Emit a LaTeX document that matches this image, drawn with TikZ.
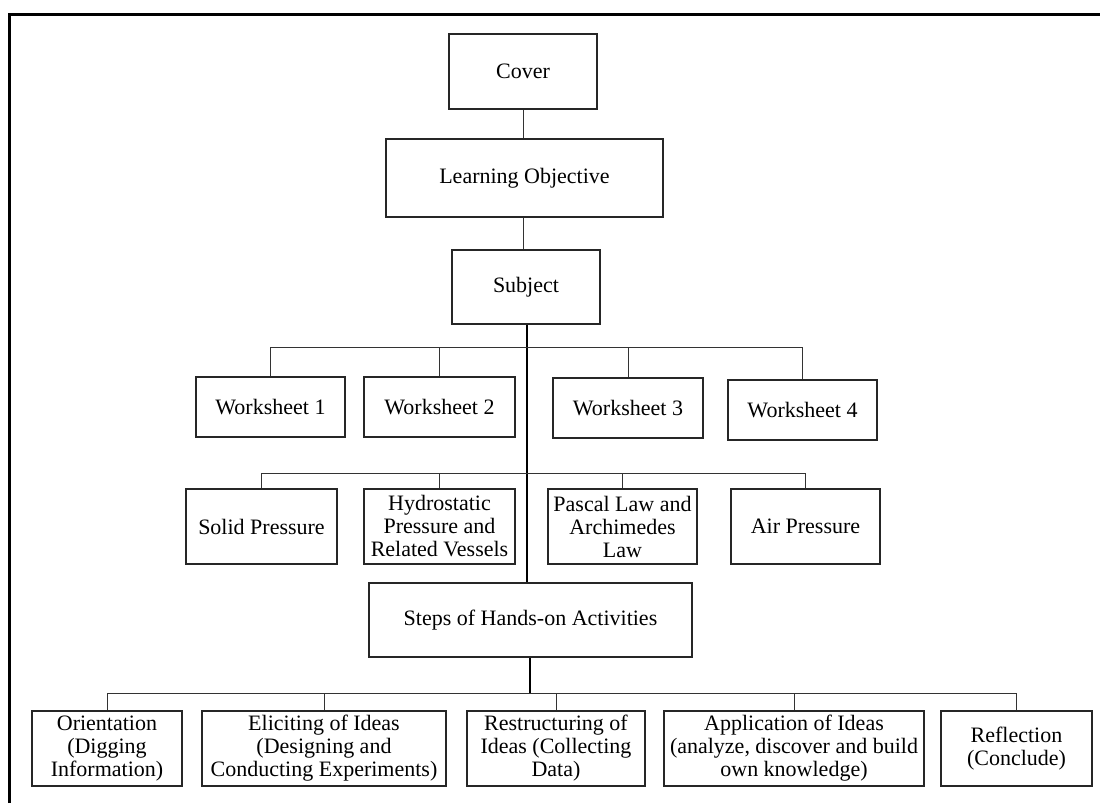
\documentclass[tikz,border=0pt]{standalone}
\usepackage{fontspec}
\setmainfont{Liberation Serif}
\begin{document}
\begin{tikzpicture}[x=1pt,y=-1pt,
  box/.style={draw=black!85,line width=1.2pt,inner sep=2pt,align=center,
    font=\fontsize{22}{23}\selectfont},
  link/.style={draw=black!80,line width=1pt},
  trunk/.style={draw=black,line width=2.2pt},
  frame/.style={draw=black,line width=3pt}]
\useasboundingbox (0,0) rectangle (1100,803);
\fill[white] (0,0) rectangle (1100,803);
% frame
\coordinate (fTL) at (9,14);
\coordinate (fTR) at (1100,14);
\coordinate (fBL) at (9,803);
\draw[frame] (fBL) -- (fTL) -- (fTR);
% boxes
\node[box,minimum width=148,minimum height=75] (cover) at (523,71.5) {Cover};
\node[box,minimum width=277,minimum height=78] (lo) at (524.5,178) {Learning Objective};
\node[box,minimum width=148,minimum height=74] (subj) at (526,287) {Subject};
\node[box,minimum width=149,minimum height=60] (ws1) at (270.5,407) {Worksheet 1};
\node[box,minimum width=151,minimum height=60] (ws2) at (439.5,407) {Worksheet 2};
\node[box,minimum width=150,minimum height=60] (ws3) at (628,408) {Worksheet 3};
\node[box,minimum width=149,minimum height=60] (ws4) at (802.5,410) {Worksheet 4};
\node[box,minimum width=151,minimum height=75] (t1) at (261.5,526.5) {Solid Pressure};
\node[box,minimum width=151,minimum height=75] (t2) at (439.5,526.5) {Hydrostatic\\Pressure and\\Related Vessels};
\node[box,minimum width=149,minimum height=75] (t3) at (622.5,526.5) {Pascal Law and\\Archimedes\\Law};
\node[box,minimum width=149,minimum height=75] (t4) at (805.5,526.5) {Air Pressure};
\node[box,minimum width=323,minimum height=74] (steps) at (530.5,620) {Steps of Hands-on Activities};
\node[box,minimum width=150,minimum height=75] (s1) at (107,748.5) {Orientation\\(Digging\\Information)};
\node[box,minimum width=244,minimum height=75] (s2) at (324,748.5) {Eliciting of Ideas\\(Designing and\\Conducting Experiments)};
\node[box,minimum width=178,minimum height=75] (s3) at (556,748.5) {Restructuring of\\Ideas (Collecting\\Data)};
\node[box,minimum width=260,minimum height=75] (s4) at (794,748.5) {Application of Ideas\\(analyze, discover and build\\own knowledge)};
\node[box,minimum width=151,minimum height=75] (s5) at (1016.5,748.5) {Reflection\\(Conclude)};
% top chain
\draw[link] (cover.south) -- (cover.south |- lo.north);
\draw[link] (cover.south |- lo.south) -- (cover.south |- subj.north);
% trunk
\coordinate (tk) at (527,0);
\draw[trunk] (tk |- subj.south) -- (tk |- steps.north);
% worksheet bus
\coordinate (b1) at (0,347);
\draw[link] (ws1.north) -- (ws1.north |- b1) -- (ws4.north |- b1) -- (ws4.north);
\draw[link] (ws2.north) -- (ws2.north |- b1);
\draw[link] (ws3.north) -- (ws3.north |- b1);
% topic bus
\coordinate (b2) at (0,473);
\draw[link] (t1.north) -- (t1.north |- b2) -- (t4.north |- b2) -- (t4.north);
\draw[link] (t2.north) -- (t2.north |- b2);
\draw[link] (t3.north) -- (t3.north |- b2);
% steps bus
\coordinate (b3) at (0,693);
\coordinate (sk) at (530,0);
\draw[trunk,line width=1.6pt] (sk |- steps.south) -- (sk |- b3);
\draw[link] (s1.north) -- (s1.north |- b3) -- (s5.north |- b3) -- (s5.north);
\draw[link] (s2.north) -- (s2.north |- b3);
\draw[link] (s3.north) -- (s3.north |- b3);
\draw[link] (s4.north) -- (s4.north |- b3);
\end{tikzpicture}
\end{document}
